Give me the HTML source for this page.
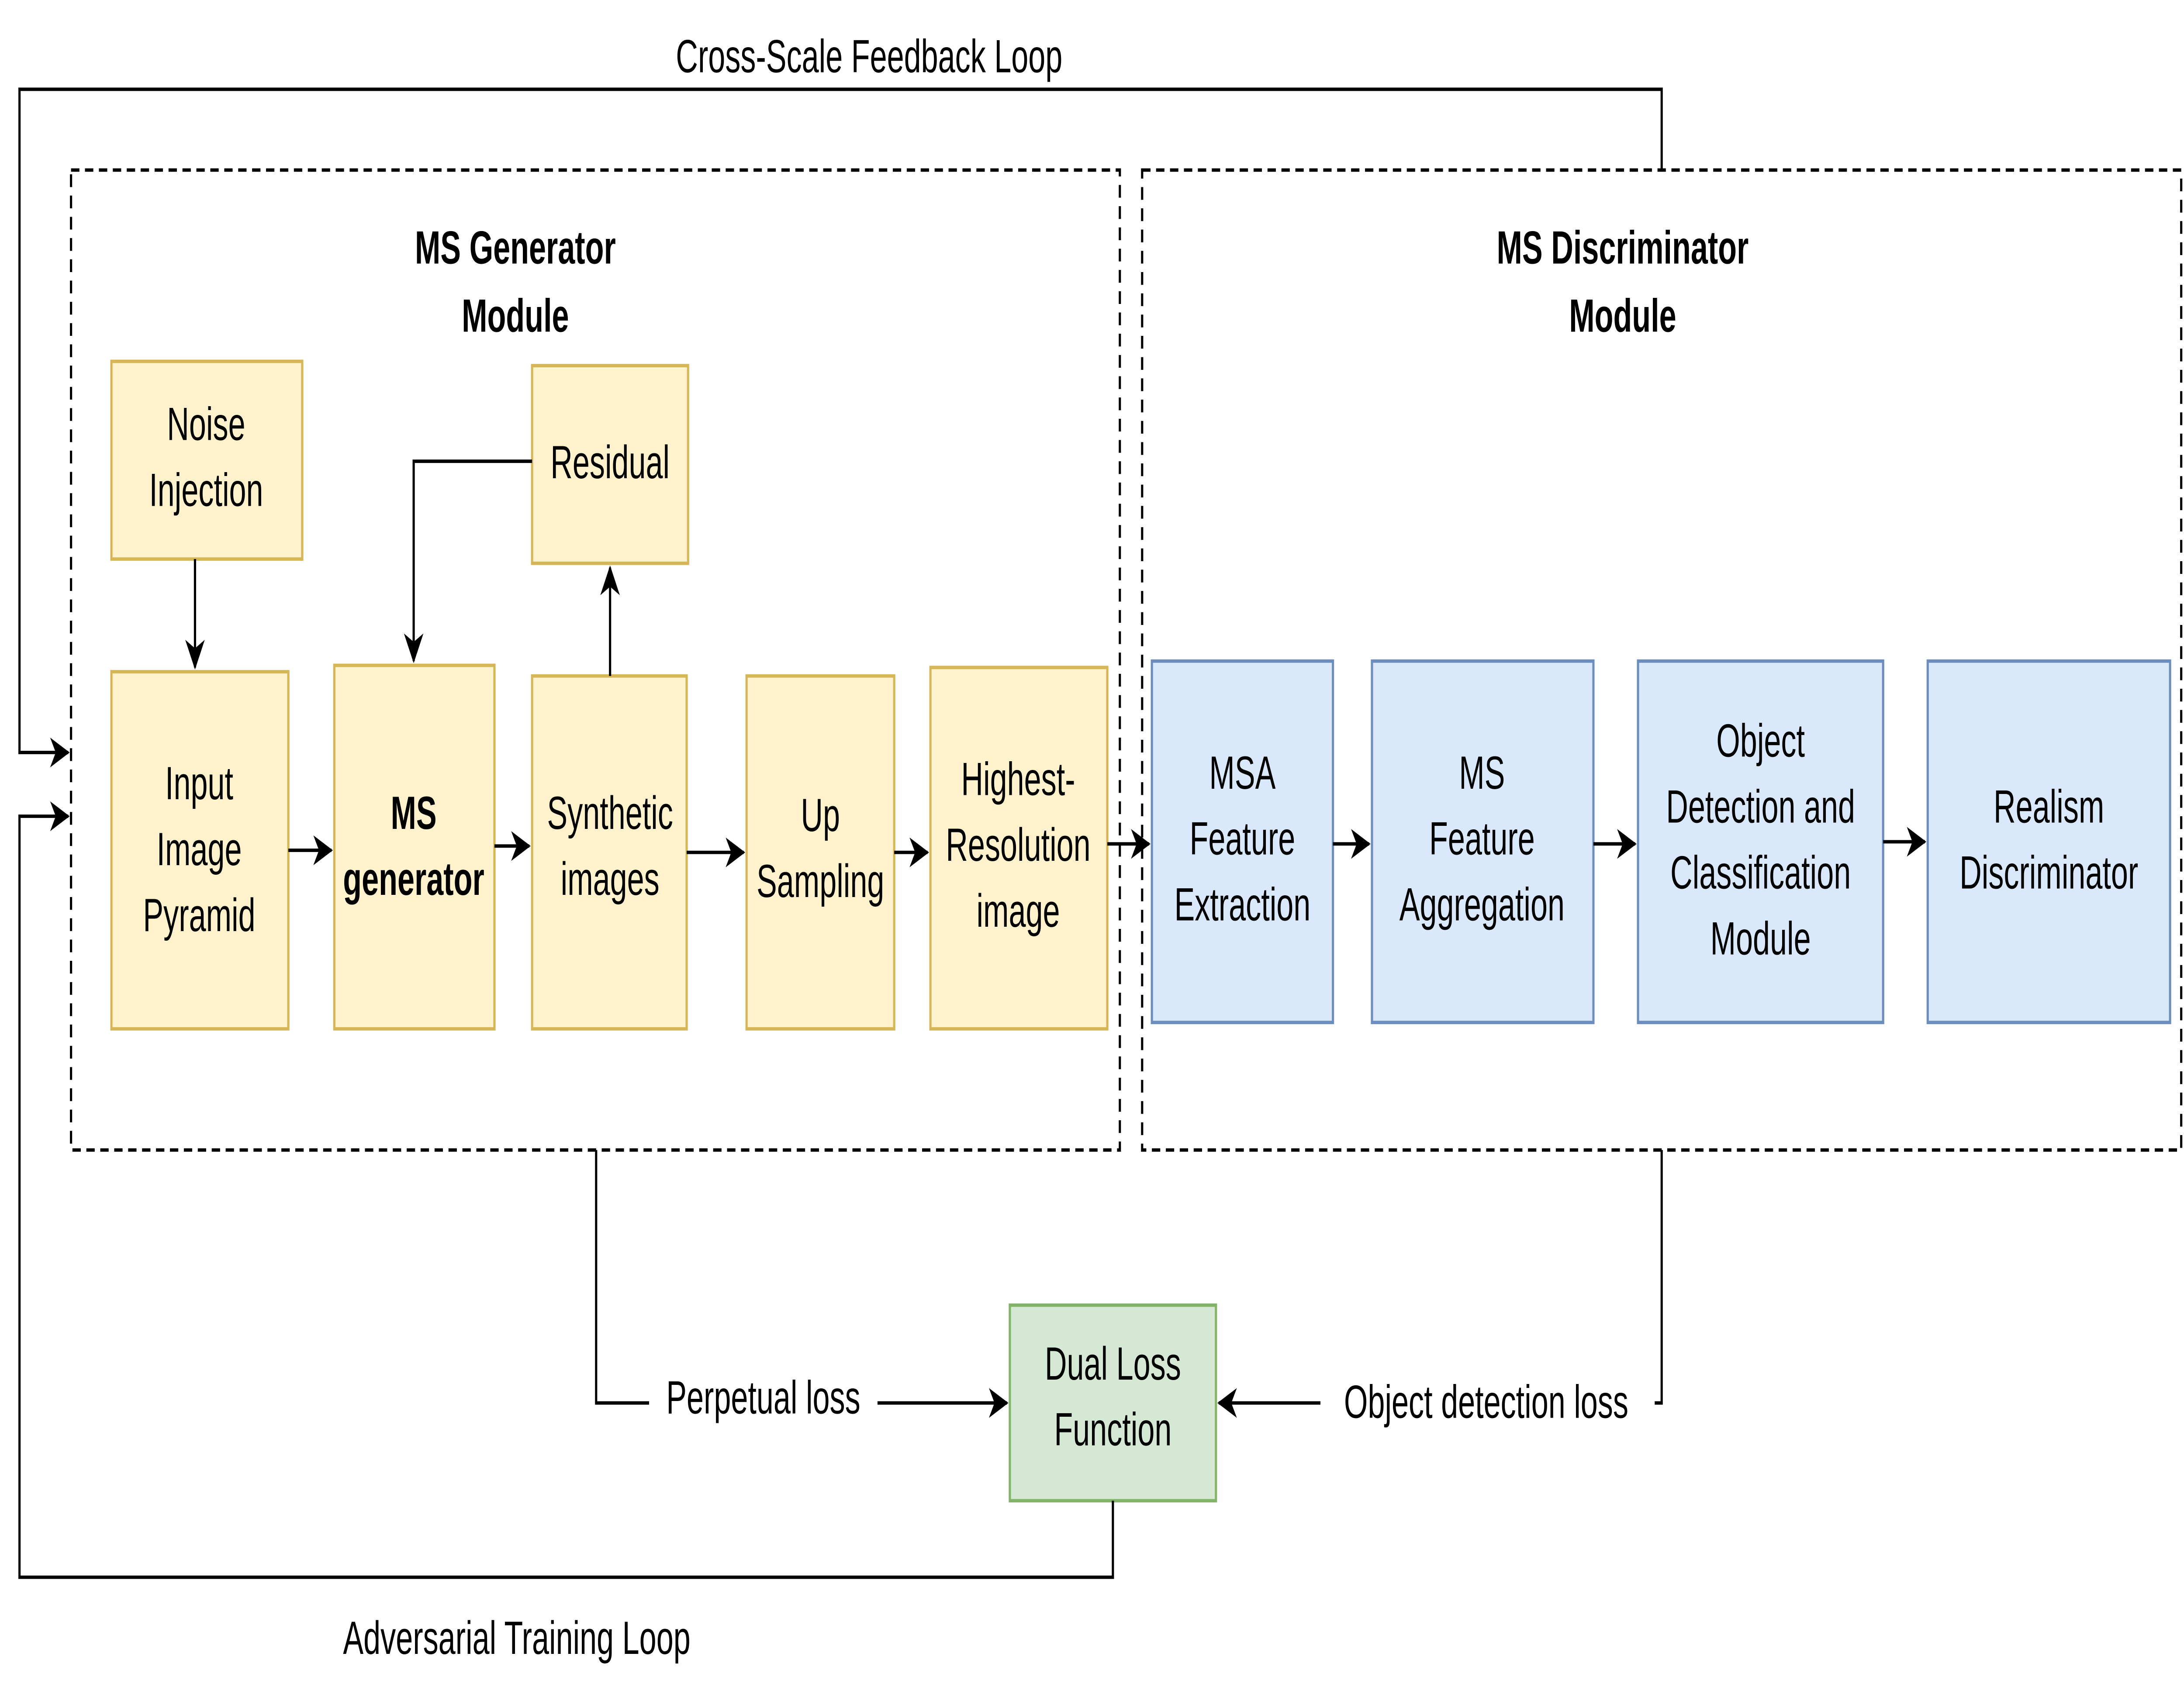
<!DOCTYPE html>
<html><head><meta charset="utf-8"><style>
html,body{margin:0;padding:0;background:#fff;overflow:hidden;width:100%;height:100%;}
svg{display:block;width:100vw;height:100vh;}
text{font-family:"Liberation Sans",Arial,sans-serif;font-size:22px;fill:#000;text-anchor:middle;}
.b{font-weight:bold;}
</style></head><body>
<svg viewBox="0 0 1568 798.8" preserveAspectRatio="none" xmlns="http://www.w3.org/2000/svg">
<defs>
<marker id="a2" markerWidth="14" markerHeight="14" refX="13" refY="7" orient="auto" markerUnits="userSpaceOnUse"><path d="M0,0 L14,7 L0,14 L4,7 z" fill="#000"/></marker></defs>
<rect width="1568" height="799" fill="#fff"/>
<g fill="none" stroke="#000" stroke-width="1.6" stroke-dasharray="6,4">
<rect x="51" y="80" width="753" height="461"/>
<rect x="820" y="80" width="746" height="461"/>
</g>
<text class="b" x="370" y="124">MS Generator</text><text class="b" x="370" y="156">Module</text>
<text class="b" x="1165" y="124">MS Discriminator</text><text class="b" x="1165" y="156">Module</text>
<g stroke="#d6b656" stroke-width="1.6" fill="#fff2cc">
<rect x="80" y="170" width="137" height="93"/>
<rect x="382" y="172" width="112" height="93"/>
<rect x="80" y="316" width="127" height="168"/>
<rect x="240" y="313" width="115" height="171"/>
<rect x="382" y="318" width="111" height="166"/>
<rect x="536" y="318" width="106" height="166"/>
<rect x="668" y="314" width="127" height="170"/>
</g>
<g stroke="#6c8ebf" stroke-width="1.6" fill="#dae8fc">
<rect x="827" y="311" width="130" height="170"/>
<rect x="985" y="311" width="159" height="170"/>
<rect x="1176" y="311" width="176" height="170"/>
<rect x="1384" y="311" width="174" height="170"/>
</g>
<rect x="725" y="614" width="148" height="92" stroke="#82b366" stroke-width="1.6" fill="#d5e8d4"/>
<text x="148" y="207">Noise</text><text x="148" y="238">Injection</text>
<text x="438" y="225">Residual</text>
<text x="143" y="376">Input</text><text x="143" y="407">Image</text><text x="143" y="438">Pyramid</text>
<text class="b" x="297" y="390">MS</text><text class="b" x="297" y="421">generator</text>
<text x="438" y="390">Synthetic</text><text x="438" y="421">images</text>
<text x="589" y="391">Up</text><text x="589" y="422">Sampling</text>
<text x="731" y="374">Highest-</text><text x="731" y="405">Resolution</text><text x="731" y="436">image</text>
<text x="892" y="371">MSA</text><text x="892" y="402">Feature</text><text x="892" y="433">Extraction</text>
<text x="1064" y="371">MS</text><text x="1064" y="402">Feature</text><text x="1064" y="433">Aggregation</text>
<text x="1264" y="356">Object</text><text x="1264" y="387">Detection and</text><text x="1264" y="418">Classification</text><text x="1264" y="449">Module</text>
<text x="1471" y="387">Realism</text><text x="1471" y="418">Discriminator</text>
<text x="799" y="649">Dual Loss</text><text x="799" y="680">Function</text>
<g fill="none" stroke="#000" stroke-width="1.6">
<path d="M140,263 V314" marker-end="url(#a2)"/>
<path d="M382,217 H297 V311" marker-end="url(#a2)"/>
<path d="M438,318 V267" marker-end="url(#a2)"/>
<path d="M207,400 H238" marker-end="url(#a2)"/>
<path d="M355,398 H380" marker-end="url(#a2)"/>
<path d="M493,401 H534" marker-end="url(#a2)"/>
<path d="M642,401 H666" marker-end="url(#a2)"/>
<path d="M795,397 H825" marker-end="url(#a2)"/>
<path d="M957,397 H983" marker-end="url(#a2)"/>
<path d="M1144,397 H1174" marker-end="url(#a2)"/>
<path d="M1352,396 H1382" marker-end="url(#a2)"/>
<path d="M1193,80 V42 H14 V354 H49" marker-end="url(#a2)"/>
<path d="M799,706 V742 H14 V384 H49" marker-end="url(#a2)"/>
<path d="M428,541 V660 H723" marker-end="url(#a2)"/>
<path d="M1193,541 V660 H875" marker-end="url(#a2)"/>
</g>
<rect x="466" y="645" width="164" height="28" fill="#fff"/>
<rect x="948" y="645" width="240" height="28" fill="#fff"/>
<text x="548" y="665">Perpetual loss</text>
<text x="1067" y="667">Object detection loss</text>
<text x="624" y="34">Cross-Scale Feedback Loop</text>
<text x="371" y="778">Adversarial Training Loop</text>
</svg>
</body></html>
